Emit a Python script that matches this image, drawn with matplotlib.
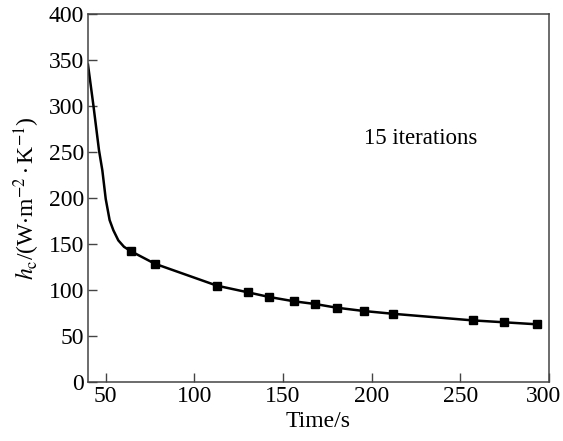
import matplotlib
matplotlib.use("Agg")
import matplotlib.pyplot as plt
import matplotlib.transforms as mtransforms

plt.rcParams["font.family"] = ["Liberation Serif", "DejaVu Serif"]
plt.rcParams["mathtext.fontset"] = "stix"

# steep initial part of the curve
head_x = [40, 43.1, 46.2, 48.1, 50.0, 52.2, 54.3, 57.1, 60.3]
head_y = [345, 300, 252, 230, 199, 176, 165, 154, 147]

# marked points
mark_x = [64.4, 77.7, 112.8, 130.2, 142.3, 156.3, 168.1, 180.2, 195.5,
          211.8, 256.9, 274.9, 293.4]
mark_y = [142.0, 128.6, 104.7, 97.5, 92.4, 87.7, 84.8, 80.8, 77.2,
          74.2, 67.0, 64.9, 62.7]

x_ticks = [50, 100, 150, 200, 250, 300]
y_ticks = [0, 50, 100, 150, 200, 250, 300, 350, 400]

fig = plt.figure(figsize=(5.63, 4.41), dpi=100)
ax = fig.add_axes([0.1563, 0.1338, 0.8187, 0.8342])

ax.plot(head_x + mark_x, head_y + mark_y, color="black", linewidth=1.8)
ax.plot(mark_x, mark_y, linestyle="none", marker="s", markersize=6,
        color="black")

ax.set_xlim(40, 300)
ax.set_ylim(0, 400)
ax.set_xticks(x_ticks)
ax.set_yticks(y_ticks)
ax.tick_params(direction="in", length=6.5, width=1, color="#444444",
               labelsize=17, top=False, right=False, pad=3)
for s in ax.spines.values():
    s.set_color("#444444")
    s.set_linewidth(1.1)

# nudge the last x label so it stays inside the figure
last = ax.get_xticklabels()[-1]
last.set_transform(last.get_transform() +
                   mtransforms.ScaledTranslation(-0.05, 0, fig.dpi_scale_trans))

ax.set_xlabel("Time/s", fontsize=17, labelpad=3)
ax.set_ylabel(r"$h_\mathrm{c}$/(W$\cdot$m$^{-2}\cdot$K$^{-1}$)", fontsize=17,
              labelpad=5)
ax.text(195.5, 265, "15 iterations", fontsize=16.5, va="center", ha="left")

plt.savefig("out.png", dpi=100)
plt.close()
